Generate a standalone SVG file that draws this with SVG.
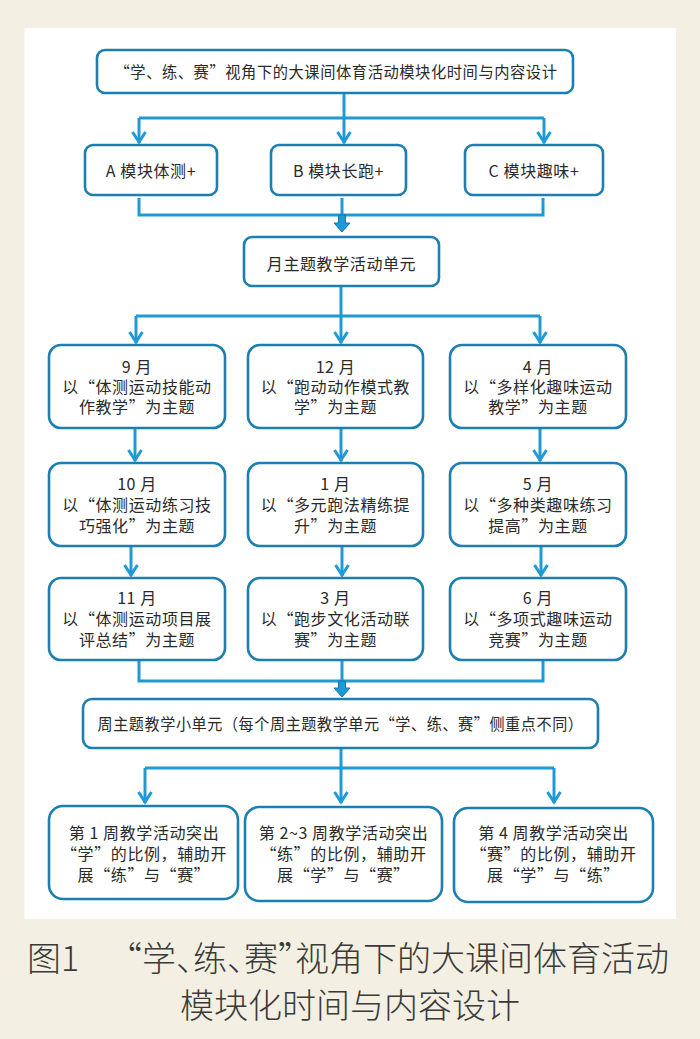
<svg xmlns="http://www.w3.org/2000/svg" width="700" height="1039" viewBox="0 0 700 1039">
<defs>
<style>
.box{fill:#ffffff;stroke:#1b7fb1;stroke-width:2.6}
.ln{fill:none;stroke:#1e9ad6;stroke-width:3}
.t{font-family:"Noto Sans CJK SC","Liberation Sans",sans-serif;font-size:16px;letter-spacing:0.6px;fill:#2a2a2a;text-anchor:middle}
.cap{font-family:"Noto Sans CJK SC","Liberation Sans",sans-serif;font-size:34px;fill:#3a3a3a;font-weight:300}
.fat{fill:#1e9ad6;stroke:#1576a8;stroke-width:1}
</style>
<marker id="ah" markerUnits="userSpaceOnUse" markerWidth="20" markerHeight="20" viewBox="-14 -10 16 20" refX="0" refY="0" orient="auto">
<path d="M-11,-6.5 L-1,0 L-11,6.5" fill="none" stroke="#1e9ad6" stroke-width="3" stroke-linejoin="miter"/>
</marker>
</defs>
<rect x="0" y="0" width="700" height="1039" fill="#f3f0e3"/>
<rect x="24.5" y="28" width="651.5" height="891" fill="#ffffff"/>

<g id="connectors">
<path class="ln" d="M344,93 V143" marker-end="url(#ah)"/>
<path class="ln" d="M139,118 H544"/>
<path class="ln" d="M139,118 V143" marker-end="url(#ah)"/>
<path class="ln" d="M544,118 V143" marker-end="url(#ah)"/>
<path class="ln" d="M139,198 V215 H543 V198"/>
<path class="ln" d="M342,198 V215"/>
<path class="fat" d="M338.5,215 H345.5 V223 H350 L342,232 L334,223 H338.5 Z"/>
<path class="ln" d="M341,286 V343" marker-end="url(#ah)"/>
<path class="ln" d="M136,316 H540"/>
<path class="ln" d="M136,316 V343" marker-end="url(#ah)"/>
<path class="ln" d="M540,316 V343" marker-end="url(#ah)"/>
<path class="ln" d="M135,428 V461" marker-end="url(#ah)"/>
<path class="ln" d="M341,428 V461" marker-end="url(#ah)"/>
<path class="ln" d="M540,428 V461" marker-end="url(#ah)"/>
<path class="ln" d="M131,546 V576" marker-end="url(#ah)"/>
<path class="ln" d="M342,546 V576" marker-end="url(#ah)"/>
<path class="ln" d="M541,546 V576" marker-end="url(#ah)"/>
<path class="ln" d="M139,660 V681 H543 V660"/>
<path class="ln" d="M342,660 V681"/>
<path class="fat" d="M338.5,681 H345.5 V688 H350 L342,697 L334,688 H338.5 Z"/>
<path class="ln" d="M341,748 V803" marker-end="url(#ah)"/>
<path class="ln" d="M145,768 H554"/>
<path class="ln" d="M145,768 V803" marker-end="url(#ah)"/>
<path class="ln" d="M554,768 V803" marker-end="url(#ah)"/>
</g>

<g id="title">
<rect class="box" x="97" y="50" width="476" height="43" rx="8"/>
<text class="t" x="336" y="78" textLength="443" lengthAdjust="spacingAndGlyphs">“学、练、赛”视角下的大课间体育活动模块化时间与内容设计</text>
</g>
<g id="modA">
<rect class="box" x="85" y="145" width="132" height="50" rx="8"/>
<text class="t" x="151" y="177">A 模块体测+</text>
</g>
<g id="modB">
<rect class="box" x="271" y="145" width="135" height="50" rx="8"/>
<text class="t" x="338.5" y="177">B 模块长跑+</text>
</g>
<g id="modC">
<rect class="box" x="465" y="145" width="138" height="50" rx="8"/>
<text class="t" x="534" y="177">C 模块趣味+</text>
</g>
<g id="month">
<rect class="box" x="244" y="237" width="195" height="49" rx="8"/>
<text class="t" x="341.5" y="270">月主题教学活动单元</text>
</g>

<g id="m9">
<rect class="box" x="49" y="345" width="176" height="83" rx="12"/>
<text class="t" y="373"><tspan x="137">9 月</tspan><tspan x="137" dy="20">以“体测运动技能动</tspan><tspan x="137" dy="20">作教学”为主题</tspan></text>
</g>
<g id="m12">
<rect class="box" x="248" y="345" width="175" height="83" rx="12"/>
<text class="t" y="373"><tspan x="335.5">12 月</tspan><tspan x="335.5" dy="20">以“跑动动作模式教</tspan><tspan x="335.5" dy="20">学”为主题</tspan></text>
</g>
<g id="m4">
<rect class="box" x="450" y="345" width="176" height="83" rx="12"/>
<text class="t" y="373"><tspan x="538">4 月</tspan><tspan x="538" dy="20">以“多样化趣味运动</tspan><tspan x="538" dy="20">教学”为主题</tspan></text>
</g>

<g id="m10">
<rect class="box" x="49" y="463" width="176" height="83" rx="12"/>
<text class="t" y="490"><tspan x="137">10 月</tspan><tspan x="137" dy="21">以“体测运动练习技</tspan><tspan x="137" dy="21">巧强化”为主题</tspan></text>
</g>
<g id="m1">
<rect class="box" x="248" y="463" width="175" height="83" rx="12"/>
<text class="t" y="490"><tspan x="335.5">1 月</tspan><tspan x="335.5" dy="21">以“多元跑法精练提</tspan><tspan x="335.5" dy="21">升”为主题</tspan></text>
</g>
<g id="m5">
<rect class="box" x="450" y="463" width="176" height="83" rx="12"/>
<text class="t" y="490"><tspan x="538">5 月</tspan><tspan x="538" dy="21">以“多种类趣味练习</tspan><tspan x="538" dy="21">提高”为主题</tspan></text>
</g>

<g id="m11">
<rect class="box" x="49" y="578" width="176" height="82" rx="12"/>
<text class="t" y="604"><tspan x="137">11 月</tspan><tspan x="137" dy="21">以“体测运动项目展</tspan><tspan x="137" dy="21">评总结”为主题</tspan></text>
</g>
<g id="m3">
<rect class="box" x="248" y="578" width="175" height="82" rx="12"/>
<text class="t" y="604"><tspan x="335.5">3 月</tspan><tspan x="335.5" dy="21">以“跑步文化活动联</tspan><tspan x="335.5" dy="21">赛”为主题</tspan></text>
</g>
<g id="m6">
<rect class="box" x="450" y="578" width="176" height="82" rx="12"/>
<text class="t" y="604"><tspan x="538">6 月</tspan><tspan x="538" dy="21">以“多项式趣味运动</tspan><tspan x="538" dy="21">竞赛”为主题</tspan></text>
</g>

<g id="week">
<rect class="box" x="83" y="699" width="515" height="49" rx="9"/>
<text class="t" x="340.5" y="730" textLength="486" lengthAdjust="spacingAndGlyphs">周主题教学小单元（每个周主题教学单元“学、练、赛”侧重点不同）</text>
</g>

<g id="w1">
<rect class="box" x="49" y="806" width="189" height="93" rx="14"/>
<text class="t" y="839"><tspan x="144">第 1 周教学活动突出</tspan><tspan x="144" dy="21">“学”的比例，辅助开</tspan><tspan x="144" dy="21">展“练”与“赛”</tspan></text>
</g>
<g id="w2">
<rect class="box" x="245" y="807" width="197" height="94" rx="14"/>
<text class="t" y="839"><tspan x="343.5">第 2~3 周教学活动突出</tspan><tspan x="343.5" dy="21">“练”的比例，辅助开</tspan><tspan x="343.5" dy="21">展“学”与“赛”</tspan></text>
</g>
<g id="w4">
<rect class="box" x="454" y="808" width="199" height="94" rx="14"/>
<text class="t" y="839"><tspan x="553.5">第 4 周教学活动突出</tspan><tspan x="553.5" dy="21">“赛”的比例，辅助开</tspan><tspan x="553.5" dy="21">展“学”与“练”</tspan></text>
</g>

<g id="caption">
<text class="cap" x="27" y="971">图1</text>
<text class="cap" x="125" y="971" style="font-feature-settings:'halt'">“学、练、赛”视角下的大课间体育活动</text>
<text class="cap" x="350" y="1018" text-anchor="middle">模块化时间与内容设计</text>
</g>
</svg>
